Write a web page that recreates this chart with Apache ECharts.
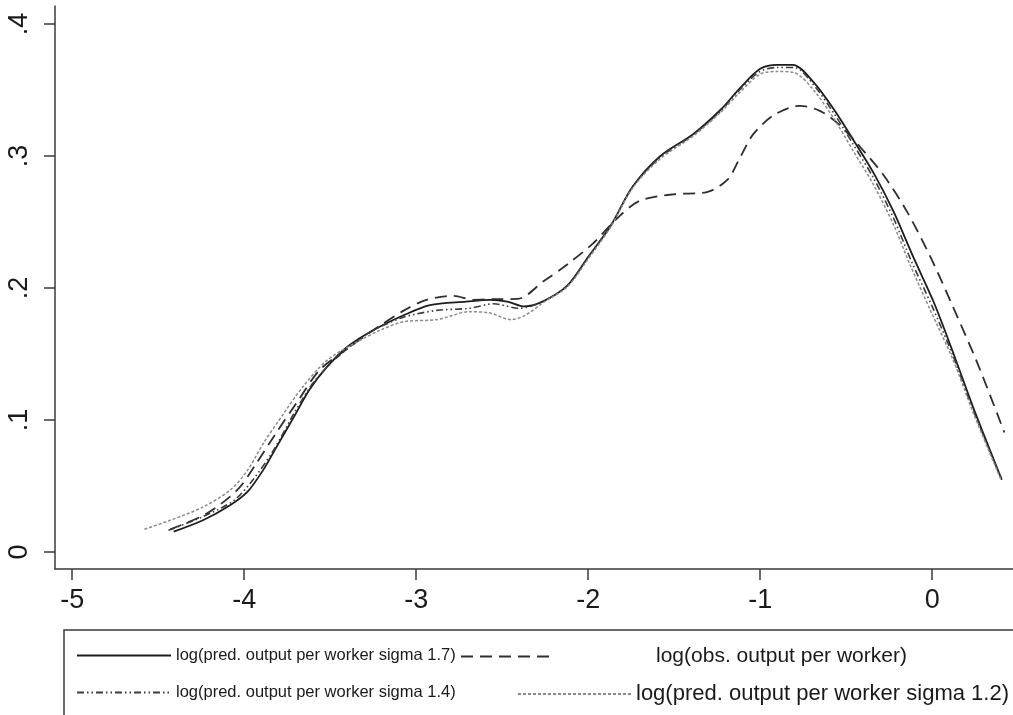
<!DOCTYPE html>
<html>
<head>
<meta charset="utf-8">
<script src="https://cdn.jsdelivr.net/npm/echarts@6/dist/echarts.min.js"></script>
<style>
  html, body { margin: 0; padding: 0; background: #ffffff; }
  #chart { width: 1013px; height: 715px; }
</style>
</head>
<body>
<div id="chart"></div>
<script>
// ---- data ----
const xTicks = [-5, -4, -3, -2, -1, 0];
const yTicks = [0, 0.1, 0.2, 0.3, 0.4];

const seriesNames = [
  'log(pred. output per worker sigma 1.7)',
  'log(obs. output per worker)',
  'log(pred. output per worker sigma 1.4)',
  'log(pred. output per worker sigma 1.2)'
];

const sigma17 = [
  [-4.41,0.0154],[-4.24,0.024],[-4.08,0.0356],[-3.98,0.0457],[-3.89,0.062],[-3.81,0.080],
  [-3.71,0.1025],[-3.62,0.123],[-3.52,0.140],[-3.40,0.1555],[-3.25,0.168],[-3.07,0.1795],
  [-2.92,0.187],[-2.71,0.1896],[-2.57,0.191],[-2.47,0.1896],[-2.37,0.186],[-2.26,0.190],
  [-2.12,0.202],[-2.0,0.2235],[-1.87,0.247],[-1.74,0.277],[-1.58,0.30],[-1.39,0.3165],
  [-1.23,0.335],[-1.12,0.351],[-1.0,0.366],[-0.90,0.369],[-0.81,0.369],[-0.69,0.356],
  [-0.57,0.335],[-0.46,0.3125],[-0.34,0.287],[-0.225,0.258],[-0.11,0.2235],[0.01,0.189],
  [0.12,0.1517],[0.24,0.109],[0.405,0.0547]
];

const obs = [
  [-4.43,0.0172],[-4.22,0.029],[-4.04,0.047],[-3.93,0.067],[-3.81,0.091],[-3.69,0.114],
  [-3.56,0.138],[-3.40,0.154],[-3.25,0.168],[-3.07,0.183],[-2.94,0.191],[-2.78,0.194],
  [-2.67,0.191],[-2.55,0.1915],[-2.41,0.1917],[-2.26,0.205],[-2.12,0.218],[-1.97,0.234],
  [-1.83,0.253],[-1.70,0.266],[-1.50,0.271],[-1.31,0.2726],[-1.19,0.282],[-1.12,0.298],
  [-1.04,0.3165],[-0.92,0.331],[-0.77,0.338],[-0.65,0.334],[-0.535,0.323],[-0.42,0.307],
  [-0.28,0.285],[-0.147,0.258],[-0.01,0.2235],[0.12,0.186],[0.26,0.144],[0.42,0.0905]
];

const sigma14 = [
  [-4.44,0.0164],[-4.24,0.0268],[-4.06,0.039],[-3.95,0.0545],[-3.83,0.077],[-3.71,0.105],
  [-3.60,0.128],[-3.48,0.145],[-3.36,0.158],[-3.25,0.168],[-3.07,0.178],[-2.88,0.183],
  [-2.69,0.1846],[-2.55,0.188],[-2.40,0.1846],[-2.26,0.190],[-2.12,0.202],[-2.0,0.2235],
  [-1.87,0.247],[-1.74,0.277],[-1.58,0.299],[-1.39,0.316],[-1.23,0.334],[-1.12,0.350],
  [-1.0,0.364],[-0.90,0.367],[-0.80,0.367],[-0.69,0.354],[-0.57,0.332],[-0.46,0.309],
  [-0.34,0.283],[-0.225,0.253],[-0.12,0.22],[0.0,0.186],[0.12,0.149],[0.24,0.107],[0.405,0.0547]
];

const sigma12 = [
  [-4.58,0.0172],[-4.43,0.024],[-4.24,0.034],[-4.08,0.047],[-3.98,0.062],[-3.89,0.082],
  [-3.77,0.105],[-3.66,0.125],[-3.52,0.145],[-3.36,0.158],[-3.21,0.168],[-3.07,0.1745],
  [-2.88,0.176],[-2.69,0.182],[-2.57,0.181],[-2.45,0.176],[-2.37,0.179],[-2.26,0.189],
  [-2.12,0.201],[-2.0,0.222],[-1.87,0.246],[-1.74,0.276],[-1.58,0.298],[-1.39,0.315],
  [-1.23,0.333],[-1.12,0.348],[-1.0,0.362],[-0.90,0.364],[-0.80,0.363],[-0.69,0.350],
  [-0.57,0.328],[-0.46,0.304],[-0.34,0.278],[-0.225,0.248],[-0.13,0.218],[-0.01,0.183],
  [0.12,0.146],[0.24,0.105],[0.40,0.0547]
];

// ---- chart ----
const FONT = "'Liberation Sans', Arial, sans-serif";
const AXIS_COLOR = '#3a3a3a';
const chart = echarts.init(document.getElementById('chart'), null, { renderer: 'canvas' });

function lineSeries(name, data, color, width, dash) {
  return {
    name: name,
    type: 'line',
    data: data,
    smooth: 0.3,
    symbol: 'none',
    showSymbol: false,
    silent: true,
    animation: false,
    lineStyle: { color: color, width: width, type: dash },
    itemStyle: { color: color }
  };
}

function legendItem(name, left, top, itemWidth, fontSize, textPadLeft) {
  return {
    show: true,
    orient: 'horizontal',
    left: left,
    top: top,
    padding: 0,
    itemGap: 0,
    itemWidth: itemWidth,
    itemHeight: 24,
    selectedMode: false,
    backgroundColor: 'transparent',
    itemStyle: { color: 'transparent', borderColor: 'transparent', borderWidth: 0 },
    textStyle: { fontFamily: FONT, fontSize: fontSize, color: '#1a1a1a',
      padding: [0, 0, 0, textPadLeft || 0] },
    data: [name]
  };
}

const option = {
  backgroundColor: '#ffffff',
  animation: false,
  grid: { left: 55, right: 0, top: 6, bottom: 146, containLabel: false },
  graphic: [{
    type: 'rect',
    z: 0,
    silent: true,
    shape: { x: 64, y: 630, width: 1000, height: 120 },
    style: { fill: '#ffffff', stroke: AXIS_COLOR, lineWidth: 1.5 }
  }],
  xAxis: {
    type: 'value',
    min: -5.1,
    max: 0.47,
    axisLine: { show: true, onZero: false, lineStyle: { color: AXIS_COLOR, width: 1.5 } },
    axisTick: { show: true, length: 11, customValues: xTicks, lineStyle: { color: AXIS_COLOR, width: 1.5 } },
    axisLabel: { customValues: xTicks, margin: 18, color: '#1a1a1a', fontSize: 27, fontFamily: FONT,
      formatter: v => String(v) },
    splitLine: { show: false }
  },
  yAxis: {
    type: 'value',
    min: -0.0129,
    max: 0.4136,
    axisLine: { show: true, onZero: false, lineStyle: { color: AXIS_COLOR, width: 1.5 } },
    axisTick: { show: true, length: 11, customValues: yTicks, lineStyle: { color: AXIS_COLOR, width: 1.5 } },
    axisLabel: { customValues: yTicks, rotate: 90, margin: 22, color: '#1a1a1a', fontSize: 27, fontFamily: FONT,
      formatter: v => (Math.abs(v) < 1e-9 ? '0' : ('.' + Math.round(v * 10))) },
    splitLine: { show: false }
  },
  legend: [
    legendItem(seriesNames[0], 76, 646, 94, 16.5),
    legendItem(seriesNames[1], 460, 646, 90, 21, 100),
    legendItem(seriesNames[2], 76, 683, 94, 16.5),
    legendItem(seriesNames[3], 517, 683, 113, 22)
  ],
  series: [
    lineSeries(seriesNames[0], sigma17, '#1c1c1c', 1.8, 'solid'),
    lineSeries(seriesNames[1], obs, '#2e2e2e', 1.8, [12, 7]),
    lineSeries(seriesNames[2], sigma14, '#3c3c3c', 1.6, [7, 3, 1.5, 3, 1.5, 3]),
    lineSeries(seriesNames[3], sigma12, '#8a8a8a', 1.5, [3, 2])
  ]
};
chart.setOption(option);
</script>
</body>
</html>
